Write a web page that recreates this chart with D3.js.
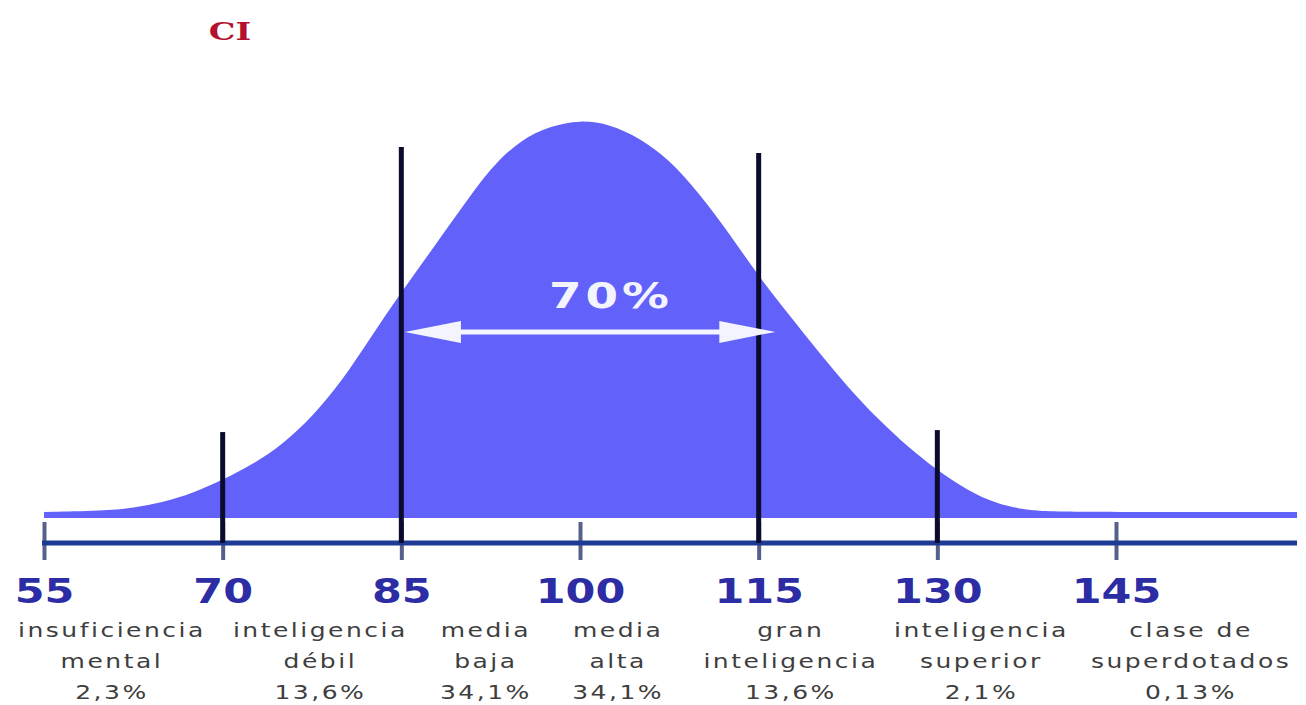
<!DOCTYPE html>
<html>
<head>
<meta charset="utf-8">
<script src="https://cdn.jsdelivr.net/npm/d3@7"></script>
<style>
  body { margin: 0; background: #fff; }
  svg { display: block; }
</style>
</head>
<body>
<div id="chart"></div>
<script>
// IQ curve (height as % of the peak)
var curveIQ = [55, 60, 62.5, 65, 67.5, 70, 72.5, 75, 77.5, 80, 82.5, 85, 87.5, 90, 92.5, 95, 97.5, 100,
  102.5, 105, 107.5, 110, 112.5, 115, 117.5, 120, 122.5, 125, 127.5, 130, 132.5, 135, 137.5, 140, 160.2];
var curveH = [1.5, 1.8, 2.5, 4, 6.3, 9.6, 13.5, 18.5, 25.5, 34.5, 46, 57, 67.5, 78, 88.5, 95.5, 99, 100.5,
  99.5, 96, 90.5, 82, 72, 61, 51.5, 42, 33, 25, 18, 12, 7, 3.5, 2, 1.5, 1.5];

var tickValues = [55, 70, 85, 100, 115, 130, 145];

// black marker lines
var markerIQ = [70, 85, 115, 130];
var markerTop = [21.7, 93.7, 92.2, 22.2];

var categories = [
  ["insuficiencia", "mental"],
  ["inteligencia", "débil"],
  ["media", "baja"],
  ["media", "alta"],
  ["gran", "inteligencia"],
  ["inteligencia", "superior"],
  ["clase de", "superdotados"]
];
var shares = ["2,3%", "13,6%", "34,1%", "34,1%", "13,6%", "2,1%", "0,13%"];
var labelAt = [60.7, 78.2, 92.1, 103.2, 117.7, 133.7, 151.3];

var arrowSpan = [85.3, 116.4];
var arrowLevel = 47;
var arrowLabel = "70%";
var title = "CI";

var width = 1306, height = 705;

var svg = d3.select("#chart").append("svg")
  .attr("width", width)
  .attr("height", height);

var x = d3.scaleLinear().domain([55, 145]).range([44, 1116]);
var y = d3.scaleLinear().domain([0, 100]).range([518, 122]);
var axisY = 543;

// title
svg.append("text")
  .attr("transform", "translate(230,40) scale(1.4,1)")
  .attr("text-anchor", "middle")
  .attr("font-family", "DejaVu Serif")
  .attr("font-weight", "bold")
  .attr("font-size", 24)
  .attr("fill", "#b3122e")
  .text(title);

// bell area
var pts = curveIQ.map(function(d, i) { return [d, curveH[i]]; });
var area = d3.area()
  .x(function(d) { return x(d[0]); })
  .y0(y(0))
  .y1(function(d) { return y(d[1]); })
  .curve(d3.curveBasis);

svg.append("path")
  .datum(pts)
  .attr("d", area)
  .attr("fill", "#6262fa");

// axis
var xAxis = d3.axisBottom(x)
  .tickValues(tickValues)
  .tickSizeInner(38)
  .tickSizeOuter(0)
  .tickPadding(20);

var gx = svg.append("g")
  .attr("transform", "translate(0,522)")
  .call(xAxis);
gx.select(".domain").remove();
gx.selectAll(".tick line")
  .attr("stroke", "#56608c")
  .attr("stroke-width", 4);
gx.selectAll(".tick text")
  .attr("transform", "scale(1.3,1)")
  .attr("font-family", "DejaVu Sans")
  .attr("font-weight", "bold")
  .attr("font-size", 33)
  .attr("fill", "#2c2ca4");

svg.append("line")
  .attr("x1", x(55) - 2)
  .attr("x2", x(160.2))
  .attr("y1", axisY)
  .attr("y2", axisY)
  .attr("stroke", "#1d3a94")
  .attr("stroke-width", 5);

// marker lines
svg.selectAll(".marker")
  .data(markerIQ)
  .enter()
  .append("line")
  .attr("class", "marker")
  .attr("x1", function(d) { return x(d); })
  .attr("x2", function(d) { return x(d); })
  .attr("y1", function(d, i) { return y(markerTop[i]); })
  .attr("y2", axisY)
  .attr("stroke", "#0b0b2e")
  .attr("stroke-width", 5);

// double arrow
var ay = y(arrowLevel);
var ax1 = x(arrowSpan[0]), ax2 = x(arrowSpan[1]);
var headL = 56, headH = 11;
svg.append("line")
  .attr("x1", ax1 + headL - 2)
  .attr("x2", ax2 - headL + 2)
  .attr("y1", ay)
  .attr("y2", ay)
  .attr("stroke", "#f4f4ff")
  .attr("stroke-width", 5);
svg.append("path")
  .attr("d", "M" + ax1 + "," + ay + "L" + (ax1 + headL) + "," + (ay - headH) +
    "L" + (ax1 + headL) + "," + (ay + headH) + "Z")
  .attr("fill", "#f4f4ff");
svg.append("path")
  .attr("d", "M" + ax2 + "," + ay + "L" + (ax2 - headL) + "," + (ay - headH) +
    "L" + (ax2 - headL) + "," + (ay + headH) + "Z")
  .attr("fill", "#f4f4ff");

svg.append("text")
  .attr("transform", "translate(" + x(102.6) + "," + y(53) + ") scale(1.3,1)")
  .attr("text-anchor", "middle")
  .attr("font-family", "DejaVu Sans")
  .attr("font-weight", "bold")
  .attr("font-size", 36)
  .attr("letter-spacing", 3)
  .attr("fill", "#f4f4ff")
  .text(arrowLabel);

// category labels
var lab = svg.selectAll(".cat")
  .data(categories)
  .enter()
  .append("text")
  .attr("class", "cat")
  .attr("transform", function(d, i) { return "translate(" + x(labelAt[i]) + ",0) scale(1.25,1)"; })
  .attr("text-anchor", "middle")
  .attr("font-family", "DejaVu Sans")
  .attr("font-size", 20)
  .attr("letter-spacing", 2)
  .attr("fill", "#3e3e3e");

lab.append("tspan").attr("x", 0).attr("y", 637).text(function(d) { return d[0]; });
lab.append("tspan").attr("x", 0).attr("y", 668).text(function(d) { return d[1]; });
lab.append("tspan").attr("x", 0).attr("y", 699).text(function(d, i) { return shares[i]; });
</script>
</body>
</html>
